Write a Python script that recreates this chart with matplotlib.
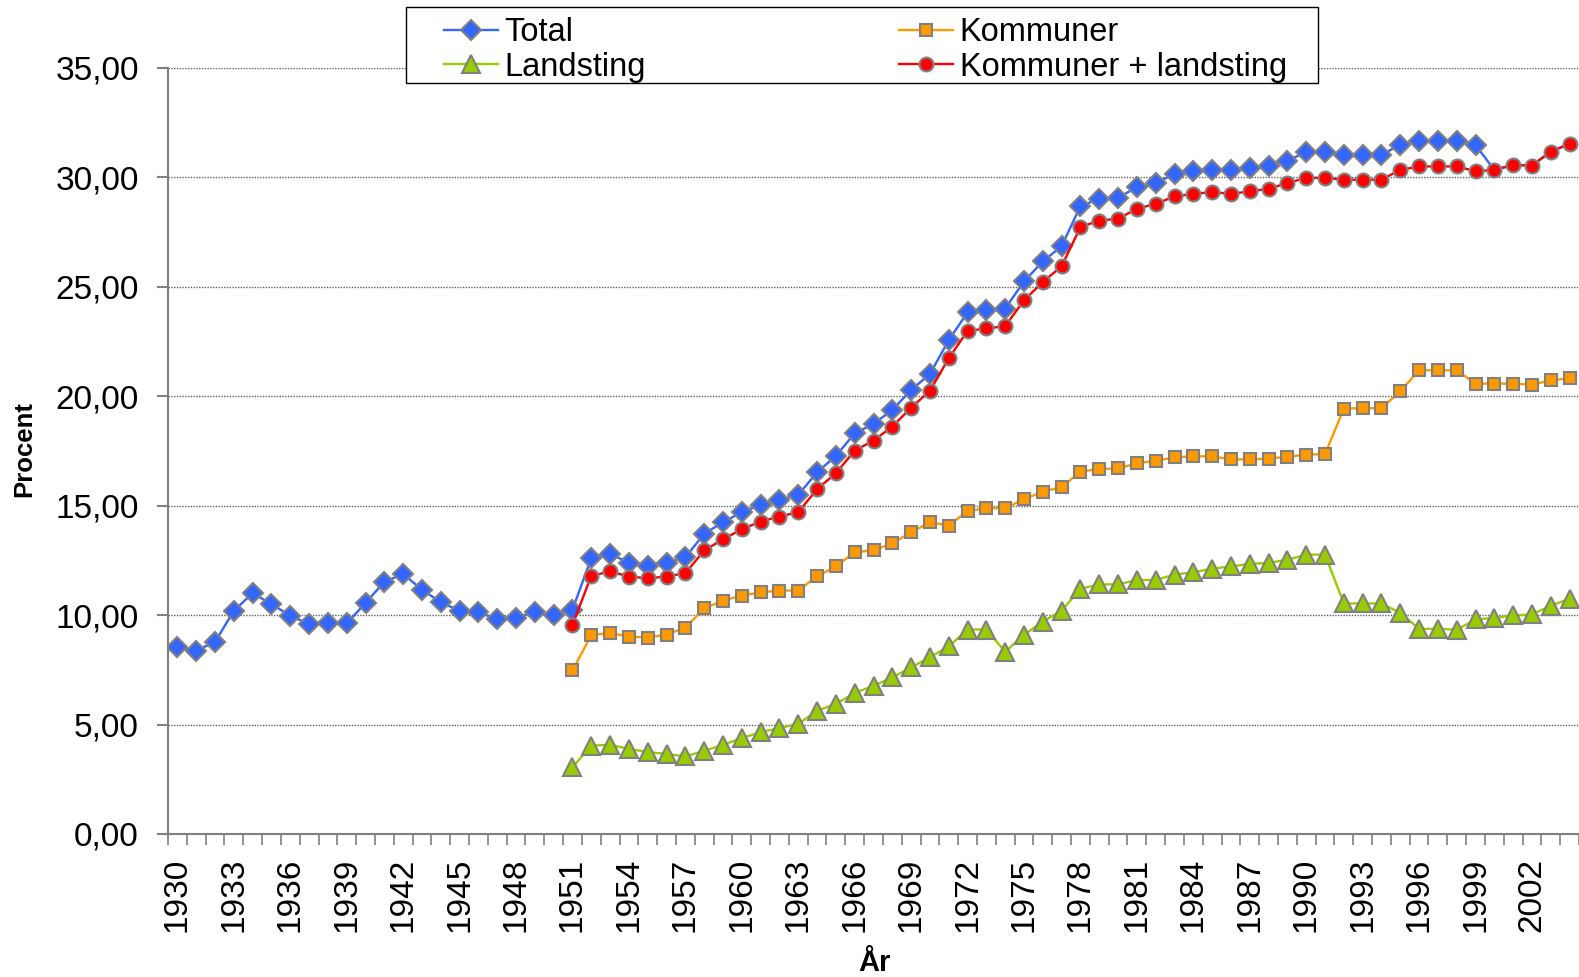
import numpy as np
import matplotlib
matplotlib.use("Agg")
import matplotlib.pyplot as plt
from matplotlib.patches import Rectangle
from matplotlib.ticker import FuncFormatter

plt.rcParams['font.family'] = ['Liberation Sans', 'DejaVu Sans']

# =============================================================================
# DATA (percent)
# =============================================================================

years_total = list(range(1930, 2005))
years_sub = list(range(1951, 2005))

total = [
    8.53, 8.38, 8.77, 10.2, 11.0, 10.5, 9.97, 9.59, 9.62, 9.62,          # 1930-39
    10.55, 11.52, 11.87, 11.16, 10.58, 10.2, 10.12, 9.82, 9.87, 10.15,   # 1940-49
    10.0, 10.25, 12.6, 12.78, 12.4, 12.26, 12.4, 12.64, 13.71, 14.24,    # 1950-59
    14.7, 15.03, 15.26, 15.49, 16.52, 17.27, 18.3, 18.73, 19.37, 20.28,  # 1960-69
    21.01, 22.56, 23.82, 23.92, 24.0, 25.24, 26.15, 26.85, 28.68, 29.01, # 1970-79
    29.06, 29.54, 29.73, 30.15, 30.3, 30.35, 30.33, 30.41, 30.53, 30.76, # 1980-89
    31.14, 31.14, 31.03, 31.03, 31.03, 31.47, 31.64, 31.64, 31.64, 31.47, # 1990-99
    30.33, 30.56, 30.53, 31.17, 31.52,                                   # 2000-04
]

kommuner = [
    7.47, 9.09, 9.18, 9.02, 8.97, 9.11, 9.43, 10.3, 10.66, 10.89,        # 1951-60
    11.04, 11.12, 11.12, 11.77, 12.22, 12.88, 12.95, 13.28, 13.78, 14.24,
    14.09, 14.75, 14.88, 14.88, 15.29, 15.64, 15.84, 16.55, 16.67, 16.7,
    16.93, 17.05, 17.2, 17.25, 17.25, 17.11, 17.11, 17.15, 17.23, 17.33,
    17.35, 19.43, 19.45, 19.45, 20.22, 21.18, 21.18, 21.18, 20.57, 20.57,
    20.57, 20.52, 20.72, 20.82,
]

landsting = [
    3.05, 4.04, 4.07, 3.89, 3.74, 3.66, 3.54, 3.8, 4.07, 4.38,           # 1951-60
    4.65, 4.84, 5.03, 5.63, 5.94, 6.44, 6.77, 7.15, 7.61, 8.07,
    8.57, 9.34, 9.34, 8.32, 9.1, 9.7, 10.2, 11.2, 11.4, 11.4,
    11.6, 11.6, 11.85, 11.95, 12.12, 12.22, 12.34, 12.38, 12.53, 12.76,
    12.76, 10.53, 10.53, 10.53, 10.1, 9.37, 9.37, 9.33, 9.8, 9.87,
    9.98, 10.03, 10.43, 10.74,
]

kommuner_landsting = [
    9.56, 11.79, 11.99, 11.76, 11.68, 11.76, 11.91, 12.95, 13.46, 13.92, # 1951-60
    14.27, 14.5, 14.7, 15.75, 16.48, 17.51, 17.97, 18.61, 19.47, 20.24,
    21.73, 22.98, 23.09, 23.19, 24.38, 25.21, 25.93, 27.72, 28.02, 28.1,
    28.56, 28.78, 29.12, 29.24, 29.32, 29.24, 29.35, 29.47, 29.73, 29.97,
    29.97, 29.89, 29.88, 29.89, 30.33, 30.49, 30.49, 30.49, 30.27, 30.33,
    30.56, 30.53, 31.17, 31.52,
]

label_years = list(range(1930, 2003, 3))
y_ticks = [0, 5, 10, 15, 20, 25, 30, 35]

# =============================================================================
# PLOT
# =============================================================================

W, H = 1579, 977
fig = plt.figure(figsize=(W / 100, H / 100), dpi=100)
ax = fig.add_axes([168 / W, 1 - 834 / H, (W - 168) / W, (834 - 67.7) / H])

edge = '#808080'
common = dict(markeredgecolor=edge, markeredgewidth=1.5, linewidth=1.7)

ax.plot(years_total, total, color='#3366FF', marker='D', markersize=10,
        markevery=slice(0, 70), label='Total', **common)
ax.plot(years_sub, kommuner, color='#FF9900', marker='s', markersize=9,
        label='Kommuner', **common)
ax.plot(years_sub, landsting, color='#99CC00', marker='^', markersize=13,
        label='Landsting', **common)
ax.plot(years_sub, kommuner_landsting, color='#FF0000', marker='o', markersize=10,
        label='Kommuner + landsting', **common)

ax.set_xlim(1929.5, 2004.5)
ax.set_ylim(0, 35)

ax.set_xticks(label_years)
ax.set_xticks(np.arange(1929.5, 2005, 1), minor=True)
ax.tick_params(axis='x', which='major', length=0, pad=17, labelsize=24, labelrotation=90)
ax.tick_params(axis='x', which='minor', length=8, width=1.2, color=edge, direction='out')

ax.set_yticks(y_ticks)
ax.yaxis.set_major_formatter(FuncFormatter(lambda v, p: f"{v:.2f}".replace('.', ',')))
ax.tick_params(axis='y', length=8, width=1.5, color=edge, pad=13, labelsize=24)

ax.yaxis.grid(True, linestyle=(0, (1, 1)), color='#606060', linewidth=1.0)
ax.set_axisbelow(True)

for s in ['top', 'right']:
    ax.spines[s].set_visible(False)
for s in ['left', 'bottom']:
    ax.spines[s].set_color(edge)
    ax.spines[s].set_linewidth(1.5)

narrow = ['Liberation Sans Narrow', 'Liberation Sans', 'DejaVu Sans']
fig.text(24 / W, 1 - 449 / H, 'Procent', rotation=90, ha='center', va='center',
         fontsize=18.5, family=narrow, fontweight='bold')
fig.text(874 / W, 1 - 963 / H, 'År', ha='center', va='center',
         fontsize=21, family=narrow, fontweight='bold')

# legend box
fig.add_artist(Rectangle((406 / W, 1 - 83.3 / H), 912 / W, 76.6 / H,
                         transform=fig.transFigure, facecolor='white',
                         edgecolor='black', linewidth=1.0, zorder=3))
handles, labels = ax.get_legend_handles_labels()
order = [0, 2, 1, 3]
leg = fig.legend([handles[i] for i in order], [labels[i] for i in order],
                 loc='upper left', bbox_to_anchor=(428 / W, 1 - 1 / H),
                 ncol=2, frameon=False, fontsize=23.5, borderpad=0,
                 handlelength=1.65, handletextpad=0.2, columnspacing=7.75,
                 labelspacing=0.1)
leg.set_zorder(4)

fig.savefig('out.png', dpi=100)
